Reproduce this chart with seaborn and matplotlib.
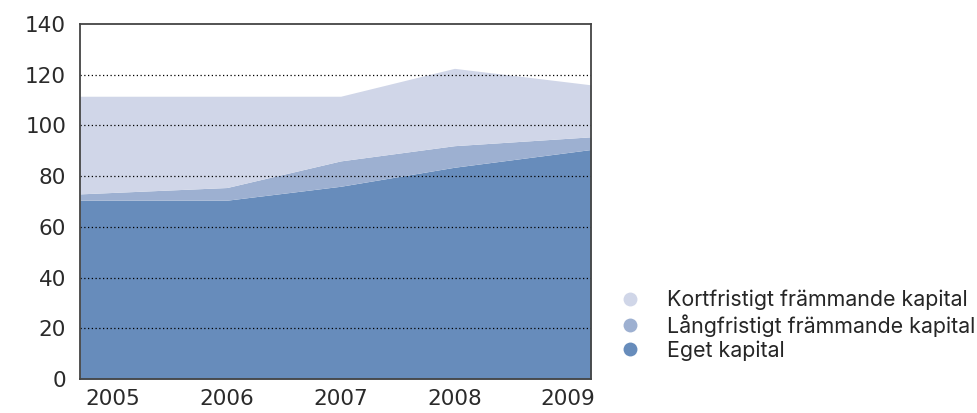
import numpy as np
import seaborn as sns
import matplotlib
matplotlib.use("Agg")
import matplotlib.pyplot as plt
from matplotlib.lines import Line2D

years = [2005, 2006, 2007, 2008, 2009]
eget = [70.5, 70.5, 76, 83.5, 90.5]
langfristigt = [2.5, 5, 10, 8.5, 5]
kortfristigt = [38.5, 36, 25.5, 30.5, 20.5]
labels = ["Eget kapital", "Långfristigt främmande kapital", "Kortfristigt främmande kapital"]
colors = ["#678cbb", "#9db0d1", "#d0d6e8"]
yticks = [0, 20, 40, 60, 80, 100, 120, 140]


def setup():
	sns.set_theme(style="white")
	plt.rcParams["font.family"] = ["DejaVu Sans"]
	fig = plt.figure(figsize=(9.78, 4.13), dpi=100)
	ax = fig.add_axes([0.0818, 0.0823, 0.5225, 0.8597])
	return fig, ax


fig, ax = setup()

# x range as in the source: first and last year stretched to the axis edges
left, right = 2004.71, 2009.20
x = np.array(years, dtype=float)
x_draw = x.copy()
x_draw[0], x_draw[-1] = left, right

ax.stackplot(x_draw, eget, langfristigt, kortfristigt, colors=colors, linewidth=0)

ax.set_xlim(left, right)
ax.set_ylim(0, 140)
ax.set_xticks(years)
ax.set_xticklabels([str(y) for y in years])
ax.set_yticks(yticks)
ax.tick_params(axis="both", length=0, labelsize=15.5, colors="#2a2a2a", pad=7)
ax.tick_params(axis="y", pad=10)

for v in yticks[1:-1]:
	ax.axhline(v, color="black", linestyle=(0, (1, 2)), linewidth=0.9, zorder=3)

for s in ax.spines.values():
	s.set_visible(True)
	s.set_color("#444444")
	s.set_linewidth(1.3)
	s.set_zorder(4)

handles = [Line2D([], [], marker="o", linestyle="none", markersize=10,
	markerfacecolor=c, markeredgecolor="none") for c in colors[::-1]]
fig.legend(handles, labels[::-1], loc="center left", bbox_to_anchor=(0.625, 0.212),
	frameon=False, prop={"family": "Inter", "size": 15.4},
	handlelength=1.0, handletextpad=1.2, labelspacing=0.17, borderaxespad=0)

fig.savefig("out.png", dpi=100)
